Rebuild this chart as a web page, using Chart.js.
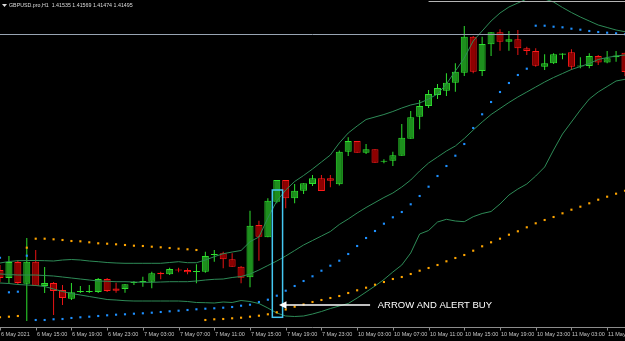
<!DOCTYPE html>
<html>
<head>
<meta charset="utf-8">
<script src="https://cdn.jsdelivr.net/npm/chart.js@4.4.1/dist/chart.umd.min.js"></script>
<style>
  html, body { margin: 0; padding: 0; background: #000; }
  #wrap { width: 625px; height: 341px; }
</style>
</head>
<body>
<div id="wrap"><canvas id="candleChart" width="625" height="341"></canvas></div>
<script>
// GBPUSD.pro H1, one value per bar, bar 0 = 6 May 11:00
var open  = [1.39135,1.39055,1.39215,1.38998,1.39218,1.38975,1.39005,1.38935,1.38848,1.38915,1.38915,1.38915,1.39045,1.38950,1.38945,1.39005,1.39015,1.39018,1.39108,1.39092,1.39140,1.39135,1.39115,1.39118,1.39285,1.39302,1.39242,1.39168,1.39062,1.39585,1.39462,1.39818,1.40035,1.39852,1.39928,1.39995,1.40052,1.40052,1.39992,1.40318,1.40425,1.40308,1.40342,1.40218,1.40228,1.40278,1.40448,1.40668,1.40775,1.40885,1.40928,1.41008,1.41108,1.41468,1.41125,1.41392,1.41512,1.41418,1.41442,1.41352,1.41325,1.41168,1.41202,1.41288,1.41312,1.41170,1.41175,1.41275,1.41210,1.41262,1.41308];
var high  = [1.39185,1.39275,1.39235,1.39455,1.39335,1.39165,1.39015,1.38985,1.39005,1.38975,1.38985,1.39055,1.39055,1.39008,1.38995,1.39025,1.39068,1.39118,1.39118,1.39158,1.39158,1.39152,1.39192,1.39318,1.39335,1.39318,1.39302,1.39175,1.39728,1.39628,1.39852,1.40035,1.40035,1.39995,1.40002,1.40085,1.40085,1.40085,1.40330,1.40462,1.40425,1.40395,1.40342,1.40242,1.40318,1.40595,1.40725,1.40835,1.40935,1.40995,1.41102,1.41202,1.41575,1.41475,1.41468,1.41512,1.41542,1.41525,1.41535,1.41368,1.41352,1.41292,1.41302,1.41302,1.41342,1.41262,1.41302,1.41285,1.41325,1.41325,1.41308];
var low   = [1.39015,1.39005,1.38985,1.38625,1.38975,1.38905,1.38685,1.38785,1.38835,1.38905,1.38905,1.38905,1.38915,1.38908,1.38908,1.38985,1.38968,1.38952,1.39042,1.39085,1.39112,1.39092,1.39002,1.39108,1.39218,1.39152,1.39168,1.39002,1.38962,1.39228,1.39462,1.39802,1.39752,1.39802,1.39895,1.39975,1.39925,1.39962,1.39980,1.40275,1.40308,1.40295,1.40208,1.40202,1.40175,1.40278,1.40448,1.40542,1.40755,1.40845,1.40875,1.40918,1.41075,1.41102,1.41075,1.41275,1.41328,1.41328,1.41285,1.41285,1.41168,1.41135,1.41195,1.41242,1.41135,1.41152,1.41152,1.41185,1.41202,1.41218,1.41075];
var close = [1.39055,1.39215,1.39005,1.39218,1.38978,1.39005,1.38925,1.38855,1.38912,1.38925,1.38925,1.39045,1.38925,1.38928,1.38992,1.39015,1.39025,1.39102,1.39092,1.39145,1.39130,1.39112,1.39125,1.39275,1.39295,1.39242,1.39168,1.39058,1.39578,1.39468,1.39828,1.40035,1.39852,1.39928,1.40002,1.40052,1.39925,1.40028,1.40318,1.40425,1.40308,1.40342,1.40208,1.40228,1.40282,1.40458,1.40662,1.40775,1.40895,1.40955,1.41008,1.41118,1.41468,1.41118,1.41395,1.41512,1.41418,1.41442,1.41352,1.41325,1.41178,1.41202,1.41292,1.41300,1.41168,1.41180,1.41275,1.41210,1.41252,1.41280,1.41115];

// Bollinger bands
var bbUpper  = [1.39205,1.39220,1.39228,1.39230,1.39230,1.39228,1.39225,1.39235,1.39240,1.39235,1.39225,1.39218,1.39210,1.39205,1.39202,1.39202,1.39202,1.39202,1.39202,1.39210,1.39218,1.39208,1.39208,1.39235,1.39268,1.39298,1.39315,1.39330,1.39418,1.39465,1.39655,1.39825,1.39935,1.40020,1.40080,1.40145,1.40215,1.40285,1.40405,1.40505,1.40575,1.40640,1.40665,1.40690,1.40720,1.40755,1.40785,1.40805,1.40845,1.40895,1.40995,1.41125,1.41255,1.41425,1.41525,1.41625,1.41705,1.41765,1.41805,1.41845,1.41865,1.41845,1.41815,1.41760,1.41710,1.41665,1.41625,1.41585,1.41560,1.41535,1.41518];
var bbMiddle = [1.39095,1.39090,1.39085,1.39085,1.39085,1.39080,1.39075,1.39065,1.39055,1.39045,1.39035,1.39025,1.39022,1.39018,1.39018,1.39015,1.39012,1.39012,1.39015,1.39018,1.39018,1.39018,1.39025,1.39035,1.39042,1.39045,1.39060,1.39070,1.39095,1.39135,1.39180,1.39225,1.39275,1.39330,1.39385,1.39430,1.39475,1.39520,1.39590,1.39645,1.39705,1.39760,1.39810,1.39860,1.39905,1.39965,1.40035,1.40125,1.40205,1.40265,1.40325,1.40375,1.40450,1.40535,1.40615,1.40690,1.40750,1.40810,1.40865,1.40915,1.40965,1.41015,1.41060,1.41100,1.41140,1.41170,1.41200,1.41240,1.41260,1.41275,1.41285];
var bbLower  = [1.39005,1.39000,1.38990,1.38985,1.38980,1.38970,1.38945,1.38920,1.38900,1.38885,1.38870,1.38855,1.38840,1.38835,1.38828,1.38825,1.38825,1.38825,1.38825,1.38825,1.38825,1.38820,1.38810,1.38808,1.38805,1.38815,1.38810,1.38830,1.38820,1.38800,1.38755,1.38705,1.38675,1.38670,1.38675,1.38695,1.38720,1.38750,1.38775,1.38800,1.38855,1.38915,1.38975,1.39040,1.39115,1.39185,1.39305,1.39495,1.39530,1.39615,1.39642,1.39625,1.39618,1.39668,1.39700,1.39720,1.39795,1.39885,1.39945,1.39995,1.40075,1.40165,1.40335,1.40495,1.40615,1.40735,1.40845,1.40915,1.40970,1.41025,1.41042];

// dotted stops (blue and orange)
var sarBlue   = [1.39258,1.38912,1.38918,1.39278,1.38635,1.38635,1.38642,1.38645,1.38655,1.38662,1.38668,1.38675,1.38682,1.38688,1.38692,1.38698,1.38702,1.38708,1.38715,1.38722,1.38728,1.38735,1.38742,1.38748,1.38752,1.38758,1.38765,1.38778,1.38788,1.38815,1.38838,1.38878,1.38928,1.38975,1.39025,1.39072,1.39128,1.39178,1.39228,1.39295,1.39375,1.39455,1.39525,1.39598,1.39662,1.39715,1.39792,1.39875,1.39968,1.40075,1.40175,1.40278,1.40395,1.40555,1.40692,1.40815,1.40915,1.41005,1.41085,1.41148,1.41578,1.41578,1.41568,1.41562,1.41548,1.41538,1.41525,1.41515,1.41508,1.41502,1.41492];
var sarOrange = [1.38662,1.38668,1.38675,1.39358,1.39448,1.39448,1.39442,1.39435,1.39425,1.39422,1.39412,1.39402,1.39398,1.39392,1.39385,1.39378,1.39375,1.39368,1.39362,1.39355,1.39348,1.39342,1.39335,1.38635,1.38642,1.38645,1.38652,1.38658,1.38668,1.38678,1.38692,1.38712,1.38740,1.38768,1.38790,1.38815,1.38835,1.38855,1.38875,1.38905,1.38932,1.38958,1.38988,1.39015,1.39045,1.39065,1.39095,1.39128,1.39155,1.39185,1.39222,1.39255,1.39285,1.39328,1.39372,1.39412,1.39448,1.39488,1.39522,1.39562,1.39602,1.39635,1.39665,1.39702,1.39738,1.39768,1.39802,1.39838,1.39868,1.39898,1.39928];

var tickBars   = [0, 4, 8, 12, 16, 20, 24, 28, 32, 36, 40, 44, 48, 52, 56, 60, 64, 68];
var tickLabels = ['6 May 2021', '6 May 15:00', '6 May 19:00', '6 May 23:00', '7 May 03:00', '7 May 07:00', '7 May 11:00', '7 May 15:00', '7 May 19:00', '7 May 23:00', '10 May 03:00', '10 May 07:00', '10 May 11:00', '10 May 15:00', '10 May 19:00', '10 May 23:00', '11 May 03:00', '11 May 07:00'];

var title = 'GBPUSD.pro,H1  1.41535 1.41569 1.41474 1.41495';
var bidLine = 1.41495;
var topLine = 1.41825;

var bars = open.map(function (v, i) { return i; });
var up = bars.map(function (i) { return close[i] > open[i]; });

function series(arr) {
    return bars.map(function (i) { return { x: i, y: arr[i] }; });
}

var overlay = {
    id: 'overlay',
    afterDatasetsDraw: function (chart) {
        var c = chart.ctx, xs = chart.scales.x, ys = chart.scales.y;
        c.save();
        // horizontal lines
        c.lineWidth = 1;
        c.strokeStyle = '#98a4b2';
        var by = Math.round(ys.getPixelForValue(bidLine)) + 0.5;
        c.beginPath();
        c.moveTo(0, by);
        c.lineTo(625, by);
        c.stroke();
        c.strokeStyle = '#b4b4b4';
        c.beginPath();
        c.moveTo(xs.getPixelForValue(48), Math.round(ys.getPixelForValue(topLine)) + 0.5);
        c.lineTo(625, Math.round(ys.getPixelForValue(topLine)) + 0.5);
        c.stroke();

        // signal box
        var x1 = xs.getPixelForValue(30.5), x2 = xs.getPixelForValue(31.65);
        var y1 = ys.getPixelForValue(1.39935), y2 = ys.getPixelForValue(1.38662);
        c.strokeStyle = '#45c8f2';
        c.lineWidth = 1.5;
        c.strokeRect(x1, y1, x2 - x1, y2 - y1);

        // arrow
        var ay = ys.getPixelForValue(1.38785);
        var tip = xs.getPixelForValue(31.25);
        c.strokeStyle = '#ffffff';
        c.lineWidth = 1.5;
        c.beginPath();
        c.moveTo(tip + 6, ay);
        c.lineTo(xs.getPixelForValue(41.45), ay);
        c.stroke();
        c.fillStyle = '#ffffff';
        c.beginPath();
        c.moveTo(tip, ay);
        c.lineTo(tip + 7.5, ay - 3.7);
        c.lineTo(tip + 7.5, ay + 3.7);
        c.closePath();
        c.fill();

        c.font = '9.5px "Liberation Sans", Arial, sans-serif';
        c.textBaseline = 'middle';
        c.textAlign = 'left';
        c.fillText('ARROW AND ALERT BUY', xs.getPixelForValue(42.3), ay + 0.5);
        c.restore();
    },
    afterDraw: function (chart) {
        var c = chart.ctx, xs = chart.scales.x;
        c.save();
        // title
        c.fillStyle = '#dcdcdc';
        c.beginPath();
        c.moveTo(2, 4); c.lineTo(7, 4); c.lineTo(4.5, 7); c.closePath();
        c.fill();
        c.font = '5.3px "Liberation Sans", Arial, sans-serif';
        c.textBaseline = 'middle';
        c.fillText(title, 9, 6);

        // time axis
        var axisY = 327.5;
        c.strokeStyle = '#8c8c8c';
        c.lineWidth = 1;
        c.beginPath();
        c.moveTo(0, axisY); c.lineTo(625, axisY);
        tickBars.forEach(function (b) {
            var x = Math.round(xs.getPixelForValue(b)) + 0.5;
            c.moveTo(x, axisY); c.lineTo(x, axisY + 3);
        });
        c.stroke();
        c.fillStyle = '#c4c4c4';
        c.font = '5.5px "Liberation Sans", Arial, sans-serif';
        tickBars.forEach(function (b, i) {
            c.fillText(tickLabels[i], Math.round(xs.getPixelForValue(b)) + 1, 334.5);
        });
        c.restore();
    }
};

var ctx = document.getElementById('candleChart').getContext('2d');

var myChart = new Chart(ctx, {
    type: 'bar',
    data: {
        datasets: [{
            label: 'SAR blue',
            type: 'line',
            data: series(sarBlue),
            showLine: false,
            pointStyle: 'rect',
            pointRadius: 1.5,
            pointBorderWidth: 0,
            pointBackgroundColor: '#1e90ff',
            order: 0
        }, {
            label: 'SAR orange',
            type: 'line',
            data: series(sarOrange),
            showLine: false,
            pointStyle: 'rect',
            pointRadius: 1.5,
            pointBorderWidth: 0,
            pointBackgroundColor: '#ffa500',
            order: 0
        }, {
            label: 'BB upper',
            type: 'line',
            data: series(bbUpper),
            borderColor: '#2e8b57',
            borderWidth: 1,
            pointRadius: 0,
            order: 1
        }, {
            label: 'BB middle',
            type: 'line',
            data: series(bbMiddle),
            borderColor: '#2e8b57',
            borderWidth: 1,
            pointRadius: 0,
            order: 1
        }, {
            label: 'BB lower',
            type: 'line',
            data: series(bbLower),
            borderColor: '#2e8b57',
            borderWidth: 1,
            pointRadius: 0,
            order: 1
        }, {
            label: 'body',
            data: bars.map(function (i) { return { x: i, y: [open[i], close[i]] }; }),
            backgroundColor: up.map(function (u) { return u ? '#1d8f1d' : '#8e0000'; }),
            borderColor: up.map(function (u) { return u ? '#2ee02e' : '#ff1a1a'; }),
            borderWidth: 1,
            borderSkipped: false,
            barThickness: 7,
            inflateAmount: 0,
            grouped: false,
            order: 2
        }, {
            label: 'wick',
            data: bars.map(function (i) { return { x: i, y: [low[i], high[i]] }; }),
            backgroundColor: up.map(function (u) { return u ? '#2ee02e' : '#e81414'; }),
            borderWidth: 0,
            barThickness: 1,
            inflateAmount: 0,
            grouped: false,
            order: 3
        }]
    },
    options: {
        responsive: false,
        animation: false,
        devicePixelRatio: 1,
        layout: { autoPadding: false, padding: { left: 0, right: 0, top: 0, bottom: 14 } },
        plugins: {
            legend: { display: false },
            tooltip: { enabled: false }
        },
        scales: {
            x: { type: 'linear', min: 0, max: 70, offset: false, display: false },
            y: { min: 1.38565, max: 1.41835, display: false }
        }
    },
    plugins: [overlay]
});
</script>
</body>
</html>
